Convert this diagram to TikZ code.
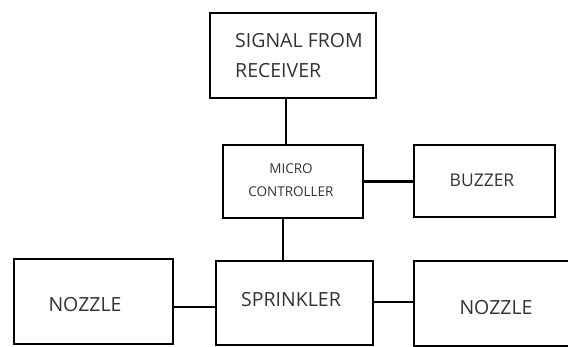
\documentclass[tikz,border=0pt]{standalone}
\usepackage{fontspec}
\setmainfont{Open Sans}
\begin{document}
\begin{tikzpicture}[x=1pt,y=-1pt,
  box/.style={draw=black, line width=2.4pt, rectangle, inner sep=0pt},
  lbl/.style={text=black!80, inner sep=0pt},
  link/.style={draw=black, line width=2.4pt}]
\useasboundingbox (0,0) rectangle (568,347);
\clip (0,0) rectangle (568,347);
% boxes
\node[box, minimum width=166pt, minimum height=85pt] (sig) at (293,55.5) {};
\node[box, minimum width=140pt, minimum height=73pt] (mc) at (293,181.5) {};
\node[box, minimum width=141pt, minimum height=72pt] (bz) at (484.5,181) {};
\node[box, minimum width=157pt, minimum height=84pt] (sp) at (294.5,303) {};
\node[box, minimum width=159pt, minimum height=85pt] (nl) at (93.5,301.5) {};
\node[box, minimum width=186pt, minimum height=85pt] (nr) at (507,303.5) {};
% labels
\node[lbl, anchor=west, align=left, font=\fontsize{19.5}{30}\selectfont] (tsig) at (235,55.5) {SIGNAL FROM\\RECEIVER};
\node[lbl, align=center, font=\fontsize{13.5}{23}\selectfont] (tmc) at (291,180.5) {MICRO\\CONTROLLER};
\node[lbl, font=\fontsize{17.5}{20}\selectfont] (tbz) at (482,180) {BUZZER};
\node[lbl, font=\fontsize{19.5}{22}\selectfont] (tsp) at (291,300) {SPRINKLER};
\node[lbl, font=\fontsize{19.5}{22}\selectfont] (tnl) at (85,305) {NOZZLE};
\node[lbl, font=\fontsize{19.5}{22}\selectfont] (tnr) at (496,308) {NOZZLE};
% connectors
\draw[link] ([xshift=-7pt]sig.south) -- ([xshift=-7pt]sig.south |- mc.north);
\draw[link] ([xshift=-10pt]mc.south) -- ([xshift=-10pt]mc.south |- sp.north);
\draw[link] (mc.east) -- (mc.east -| bz.west);
\draw[link] ([yshift=-5.5pt]nl.east) -- ([yshift=-5.5pt]nl.east -| sp.west);
\draw[link] ([yshift=1pt]sp.east) -- ([yshift=1pt]sp.east -| nr.west);
\end{tikzpicture}
\end{document}
